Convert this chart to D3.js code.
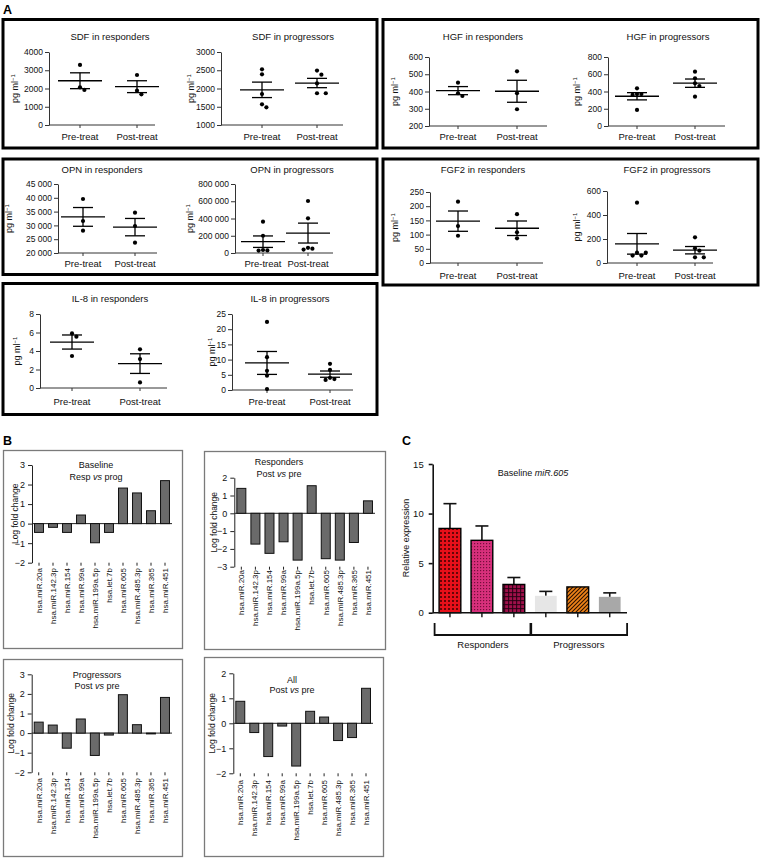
<!DOCTYPE html>
<html><head><meta charset="utf-8">
<script src="https://cdn.jsdelivr.net/npm/d3@7"></script>
<style>
body{margin:0;background:#fff;}
svg{display:block;font-family:"Liberation Sans",Arial,Helvetica,sans-serif;}
</style></head><body>
<svg id="c" width="762" height="858"></svg>
<script>
// ---------------- DATA ----------------
const treatGroups = ["Pre-treat", "Post-treat"];
// panel A: individual values [pre, post]
const sdfResponders   = [[3290, 2065, 1920], [2740, 1880, 1680]];
const sdfProgressors  = [[2526, 2389, 1849, 1567, 1485], [2490, 2380, 2140, 1870, 1870]];
const hgfResponders   = [[451, 390, 374], [517, 390, 297]];
const hgfProgressors  = [[437, 371, 360, 370, 186], [630, 553, 495, 464, 340]];
const opnResponders   = [[39565, 31594, 28080], [34601, 29783, 23732]];
const opnProgressors  = [[363000, 200000, 35000, 30000, 28000], [603000, 402000, 60000, 40000, 50000]];
const fgf2Responders  = [[216, 130, 96], [172, 108, 87]];
const fgf2Progressors = [[503, 86, 62, 62, 86], [214, 122, 103, 47, 47]];
const il8Responders   = [[5.9, 5.55, 3.46], [4.18, 3.13, 0.6]];
const il8Progressors  = [[22.4, 10.8, 6.3, 4.7, 0.3], [8.6, 6.6, 4.0, 3.3, 3.6]];

// y domains and tick steps [min, max, step]
const sdfRespTicks = [0, 4000, 1000];
const sdfProgTicks = [1000, 3000, 500];
const hgfRespTicks = [200, 600, 100];
const hgfProgTicks = [0, 800, 200];
const opnRespTicks = [20000, 45000, 5000];
const opnProgTicks = [0, 800000, 200000];
const fgfRespTicks = [0, 250, 50];
const fgfProgTicks = [0, 600, 200];
const il8RespTicks = [0, 8, 2];
const il8ProgTicks = [0, 25, 5];

// panel B
const mirnas = ["hsa.miR.20a", "hsa.miR.142.3p", "hsa.miR.154", "hsa.miR.99a", "hsa.miR.199a.5p",
                "hsa.let.7b", "hsa.miR.605", "hsa.miR.485.3p", "hsa.miR.365", "hsa.miR.451"];
const baselineRespVsProg  = [-0.45, -0.19, -0.45, 0.44, -0.98, -0.45, 1.82, 1.57, 0.66, 2.2];
const respondersPostVsPre = [1.4, -1.73, -2.25, -1.6, -2.63, 1.55, -2.55, -2.63, -1.64, 0.7];
const progressorsPostVsPre= [0.56, 0.41, -0.77, 0.72, -1.14, -0.1, 1.96, 0.43, -0.03, 1.82];
const allPostVsPre        = [0.88, -0.37, -1.33, -0.11, -1.71, 0.48, 0.25, -0.69, -0.57, 1.4];

// panel C
const cSamples = ["R1", "R2", "R3", "P1", "P2", "P3"];
const cValues  = [8.5, 7.3, 2.85, 1.7, 2.6, 1.6];
const cSem     = [2.5, 1.45, 0.7, 0.45, 0, 0.4];
const cGroupLabels = ["Responders", "Progressors"];

// ---------------- DRAW ----------------
const svg = d3.select("#c");
const defs = svg.append("defs");
const TXT = "#111";

function fmtTick(v) { return Math.abs(v) >= 10000 ? d3.format(",")(v).replace(/,/g, " ") : String(v); }

// Panel letters
[["A", 3, 14], ["B", 3, 445], ["C", 402, 445]].forEach(([t, x, y]) =>
  svg.append("text").attr("x", x).attr("y", y).attr("font-size", 12.5).attr("font-weight", "bold").text(t));

// Panel A frames
[[3, 19.5, 374, 128.5], [383, 19.5, 375, 128.5], [3, 159, 374, 115.5], [383, 159, 375, 126], [3, 283.5, 374, 131]]
  .forEach(([x, y, w, h]) => svg.append("rect").attr("x", x).attr("y", y).attr("width", w).attr("height", h)
    .attr("fill", "none").attr("stroke", "#000").attr("stroke-width", 3));

function yLabelPg(g, cx, cy) {
  const t = g.append("text").attr("transform", `translate(${cx},${cy}) rotate(-90)`)
    .attr("text-anchor", "middle").attr("dy", "0.35em").attr("font-size", 9).attr("fill", TXT);
  t.append("tspan").text("pg ml");
  t.append("tspan").attr("dy", "-0.45em").attr("font-size", 6).text("\u22121");
}

function scatterPlot(L, title, data, tk) {
  const g = svg.append("g");
  const y = d3.scaleLinear().domain([tk[0], tk[1]]).range([L.yBot, L.yTop]);
  const x = d3.scalePoint().domain(treatGroups).range([L.preX, L.postX]);
  const ya = g.append("g").attr("transform", `translate(${L.axisX},0)`)
    .call(d3.axisLeft(y).tickValues(d3.range(tk[0], tk[1] + tk[2] / 2, tk[2]))
      .tickSize(4).tickSizeOuter(0).tickPadding(2).tickFormat(fmtTick));
  ya.attr("font-size", 8.5).attr("font-family", null);
  ya.selectAll("text").attr("fill", TXT);
  ya.selectAll("line,path").attr("stroke", "#333");
  g.append("line").attr("x1", L.axisX).attr("x2", L.axisEnd).attr("y1", L.yBot).attr("y2", L.yBot).attr("stroke", "#333");
  treatGroups.forEach(gr => {
    g.append("line").attr("x1", x(gr)).attr("x2", x(gr)).attr("y1", L.yBot).attr("y2", L.yBot + 3).attr("stroke", "#333");
    g.append("text").attr("x", x(gr)).attr("y", L.labY).attr("text-anchor", "middle")
      .attr("font-size", 9.5).attr("fill", TXT).text(gr);
  });
  g.append("text").attr("x", L.titleX).attr("y", L.titleY).attr("text-anchor", "middle")
    .attr("font-size", 9.5).attr("fill", TXT).text(title);
  yLabelPg(g, L.ylabX, (L.yTop + L.yBot) / 2);

  data.forEach((pts, i) => {
    const cx = x(treatGroups[i]);
    const m = d3.mean(pts), s = d3.deviation(pts) / Math.sqrt(pts.length);
    const placed = [];
    const sorted = pts.map(v => ({ v, py: y(v) })).sort((a, b) => a.py - b.py);
    const offs = [0, 4.4, -4.4, 8.8, -8.8, 13.2, -13.2];
    sorted.forEach(p => {
      let ox = 0;
      for (const o of offs) {
        if (placed.every(q => Math.hypot(q.x - (cx + o), q.y - p.py) >= 4.4)) { ox = o; break; }
      }
      placed.push({ x: cx + ox, y: p.py });
    });
    g.selectAll(null).data(placed).join("circle").attr("cx", d => d.x).attr("cy", d => d.y)
      .attr("r", 2.1).attr("fill", "#000");
    const sw = 1.3;
    g.append("line").attr("x1", cx - 22).attr("x2", cx + 22).attr("y1", y(m)).attr("y2", y(m)).attr("stroke", "#000").attr("stroke-width", sw);
    g.append("line").attr("x1", cx).attr("x2", cx).attr("y1", y(m - s)).attr("y2", y(m + s)).attr("stroke", "#000").attr("stroke-width", sw);
    [m - s, m + s].forEach(v => g.append("line").attr("x1", cx - 10).attr("x2", cx + 10).attr("y1", y(v)).attr("y2", y(v))
      .attr("stroke", "#000").attr("stroke-width", sw));
  });
}

scatterPlot({ axisX: 49, axisEnd: 155, preX: 80, postX: 137, yTop: 52, yBot: 125, titleX: 110, titleY: 39.5, labY: 140, ylabX: 15 },
  "SDF in responders", sdfResponders, sdfRespTicks);
scatterPlot({ axisX: 221, axisEnd: 343, preX: 262, postX: 317, yTop: 52, yBot: 125, titleX: 293, titleY: 39.5, labY: 140, ylabX: 191 },
  "SDF in progressors", sdfProgressors, sdfProgTicks);
scatterPlot({ axisX: 429, axisEnd: 547, preX: 458, postX: 517, yTop: 57, yBot: 126, titleX: 483, titleY: 39.5, labY: 140, ylabX: 395 },
  "HGF in responders", hgfResponders, hgfRespTicks);
scatterPlot({ axisX: 608, axisEnd: 725, preX: 637, postX: 695, yTop: 57, yBot: 126, titleX: 668, titleY: 39.5, labY: 140, ylabX: 577 },
  "HGF in progressors", hgfProgressors, hgfProgTicks);
scatterPlot({ axisX: 58, axisEnd: 157, preX: 83, postX: 135, yTop: 184, yBot: 253, titleX: 102, titleY: 172.5, labY: 267, ylabX: 9 },
  "OPN in responders", opnResponders, opnRespTicks);
scatterPlot({ axisX: 235, axisEnd: 333, preX: 263, postX: 308, yTop: 184, yBot: 253, titleX: 292, titleY: 172.5, labY: 267, ylabX: 190 },
  "OPN in progressors", opnProgressors, opnProgTicks);
scatterPlot({ axisX: 430, axisEnd: 543, preX: 458, postX: 517, yTop: 192, yBot: 263, titleX: 483, titleY: 172.5, labY: 278.5, ylabX: 395 },
  "FGF2 in responders", fgf2Responders, fgfRespTicks);
scatterPlot({ axisX: 607, axisEnd: 713, preX: 637, postX: 695, yTop: 191, yBot: 263, titleX: 667, titleY: 172.5, labY: 278.5, ylabX: 577 },
  "FGF2 in progressors", fgf2Progressors, fgfProgTicks);
scatterPlot({ axisX: 40, axisEnd: 167, preX: 72, postX: 140, yTop: 314, yBot: 388, titleX: 110, titleY: 301.5, labY: 405, ylabX: 17 },
  "IL-8 in responders", il8Responders, il8RespTicks);
scatterPlot({ axisX: 232, axisEnd: 353, preX: 267, postX: 330, yTop: 314, yBot: 390, titleX: 290, titleY: 301.5, labY: 405, ylabX: 212 },
  "IL-8 in progressors", il8Progressors, il8ProgTicks);

// ---------------- Panel B ----------------
[[3, 450, 179, 198], [204, 451, 181, 198], [3, 659, 179, 197], [204, 657, 179, 199]]
  .forEach(([x, y, w, h]) => svg.append("rect").attr("x", x + 0.5).attr("y", y + 0.5).attr("width", w).attr("height", h)
    .attr("fill", "none").attr("stroke", "#7a7a7a").attr("stroke-width", 1.3));

function barPlot(L, titleA, titleB, values) {
  const g = svg.append("g");
  const y = d3.scaleLinear().domain(L.dom).range([L.yBot, L.yTop]);
  const x = d3.scaleBand().domain(mirnas).range([L.axisX, L.axisEnd]).paddingInner(0.36).paddingOuter(0.18);
  const ya = g.append("g").attr("transform", `translate(${L.axisX},0)`)
    .call(d3.axisLeft(y).ticks(L.dom[1] - L.dom[0]).tickSize(4).tickSizeOuter(0).tickPadding(3).tickFormat(d3.format("d")));
  ya.attr("font-size", 9).attr("font-family", null);
  ya.selectAll("text").attr("fill", TXT);
  ya.selectAll("line,path").attr("stroke", "#222");
  g.append("line").attr("x1", L.axisX).attr("x2", L.axisEnd).attr("y1", y(0)).attr("y2", y(0)).attr("stroke", "#222");
  g.selectAll(null).data(values).join("rect")
    .attr("x", (d, i) => x(mirnas[i])).attr("width", x.bandwidth())
    .attr("y", d => y(Math.max(0, d))).attr("height", d => Math.max(0.8, Math.abs(y(d) - y(0))))
    .attr("fill", "#6a6a6a").attr("stroke", "#111").attr("stroke-width", 1);
  mirnas.forEach(m => {
    const cx = x(m) + x.bandwidth() / 2;
    g.append("line").attr("x1", cx).attr("x2", cx).attr("y1", L.yBot).attr("y2", L.yBot + 3).attr("stroke", "#222");
    g.append("text").attr("transform", `translate(${cx},${L.labTop}) rotate(-90)`).attr("text-anchor", "end")
      .attr("dy", "0.35em").attr("font-size", 8).attr("fill", TXT).text(m);
  });
  g.append("text").attr("x", L.titleX).attr("y", L.titleY[0]).attr("text-anchor", "middle").attr("font-size", 9).attr("fill", TXT).text(titleA);
  const t2 = g.append("text").attr("x", L.titleX).attr("y", L.titleY[1]).attr("text-anchor", "middle").attr("font-size", 9).attr("fill", TXT);
  const parts = titleB.split(" vs ");
  t2.append("tspan").text(parts[0] + " ");
  t2.append("tspan").attr("font-style", "italic").text("vs");
  t2.append("tspan").text(" " + parts[1]);
  g.append("text").attr("transform", `translate(${L.ylabX},${(L.yTop + L.yBot) / 2}) rotate(-90)`)
    .attr("text-anchor", "middle").attr("dy", "0.35em").attr("font-size", 8.5).attr("fill", TXT).text("Log fold change");
}

barPlot({ axisX: 32, axisEnd: 172, yTop: 465, yBot: 562.7, dom: [-2, 3], titleX: 96, titleY: [468, 479.5], ylabX: 15, labTop: 568 },
  "Baseline", "Resp vs prog", baselineRespVsProg);
barPlot({ axisX: 234.3, axisEnd: 375, yTop: 477.7, yBot: 566.7, dom: [-3, 2], titleX: 279, titleY: [464.5, 476.5], ylabX: 214, labTop: 570 },
  "Responders", "Post vs pre", respondersPostVsPre);
barPlot({ axisX: 31.7, axisEnd: 172, yTop: 674.3, yBot: 772.3, dom: [-2, 3], titleX: 97, titleY: [677.5, 688.5], ylabX: 11, labTop: 778 },
  "Progressors", "Post vs pre", progressorsPostVsPre);
barPlot({ axisX: 233.3, axisEnd: 373, yTop: 673.3, yBot: 773.3, dom: [-2, 2], titleX: 292, titleY: [682.5, 693], ylabX: 212, labTop: 780 },
  "All", "Post vs pre", allPostVsPre);

// ---------------- Panel C ----------------
function pat(id, size, bg, draw) {
  const p = defs.append("pattern").attr("id", id).attr("patternUnits", "userSpaceOnUse").attr("width", size).attr("height", size);
  p.append("rect").attr("width", size).attr("height", size).attr("fill", bg);
  draw(p);
}
pat("p1", 4, "#e8101a", p => { p.append("rect").attr("x", 0).attr("y", 0).attr("width", 2).attr("height", 2).attr("fill", "#3a0000").attr("opacity", 0.75); });
pat("p2", 3, "#d8307c", p => { p.append("rect").attr("x", 0).attr("y", 0).attr("width", 1.2).attr("height", 1.2).attr("fill", "#4a0020").attr("opacity", 0.7); });
pat("p3", 4, "#a0104a", p => {
  p.append("rect").attr("x", 0).attr("y", 0).attr("width", 4).attr("height", 1.2).attr("fill", "#200010").attr("opacity", 0.8);
  p.append("rect").attr("x", 0).attr("y", 0).attr("width", 1.2).attr("height", 4).attr("fill", "#200010").attr("opacity", 0.8);
});
pat("p5", 4, "#f08418", p => {
  p.append("path").attr("d", "M-1,1 l2,-2 M0,4 l4,-4 M3,5 l2,-2").attr("stroke", "#2a1000").attr("stroke-width", 1.1);
});
const cFills   = ["url(#p1)", "url(#p2)", "url(#p3)", "#e6e6e6", "url(#p5)", "#a8a8a8"];
const cStrokes = ["#000", "#000", "#000", "none", "#000", "none"];

(function () {
  const L = { axisX: 432.7, axisEnd: 627, yTop: 464, yBot: 612.7 };
  const g = svg.append("g");
  const y = d3.scaleLinear().domain([0, 15]).range([L.yBot, L.yTop]);
  const x = d3.scaleBand().domain(cSamples).range([L.axisX, L.axisEnd]).paddingInner(0.32).paddingOuter(0.2);
  const ya = g.append("g").attr("transform", `translate(${L.axisX},0)`)
    .call(d3.axisLeft(y).tickValues([0, 5, 10, 15]).tickSize(4).tickSizeOuter(0).tickPadding(5));
  ya.attr("font-size", 9.5).attr("font-family", null);
  ya.selectAll("text").attr("fill", TXT);
  ya.selectAll("line,path").attr("stroke", "#111").attr("stroke-width", 1.6);
  cSamples.forEach((s, i) => {
    if (cSem[i] <= 0) return;
    const cx = x(s) + x.bandwidth() / 2;
    g.append("line").attr("x1", cx).attr("x2", cx).attr("y1", y(cValues[i])).attr("y2", y(cValues[i] + cSem[i])).attr("stroke", "#111").attr("stroke-width", 1.6);
    g.append("line").attr("x1", cx - 6.5).attr("x2", cx + 6.5).attr("y1", y(cValues[i] + cSem[i])).attr("y2", y(cValues[i] + cSem[i])).attr("stroke", "#111").attr("stroke-width", 1.6);
  });
  g.selectAll(null).data(cValues).join("rect")
    .attr("x", (d, i) => x(cSamples[i])).attr("width", x.bandwidth())
    .attr("y", d => y(d)).attr("height", d => y(0) - y(d))
    .attr("fill", (d, i) => cFills[i]).attr("stroke", (d, i) => cStrokes[i]).attr("stroke-width", 1.4);
  g.append("line").attr("x1", L.axisX).attr("x2", L.axisEnd).attr("y1", L.yBot).attr("y2", L.yBot).attr("stroke", "#111").attr("stroke-width", 1.6);
  cSamples.forEach(s => {
    const cx = x(s) + x.bandwidth() / 2;
    g.append("line").attr("x1", cx).attr("x2", cx).attr("y1", L.yBot).attr("y2", L.yBot + 4.5).attr("stroke", "#111").attr("stroke-width", 1.4);
  });
  const t = g.append("text").attr("x", 533).attr("y", 476).attr("text-anchor", "middle").attr("font-size", 9).attr("fill", TXT);
  t.append("tspan").text("Baseline ");
  t.append("tspan").attr("font-style", "italic").text("miR.605");
  g.append("text").attr("transform", `translate(406,538) rotate(-90)`).attr("text-anchor", "middle").attr("dy", "0.35em")
    .attr("font-size", 9).attr("fill", TXT).text("Relative expression");
  [[0, 2], [3, 5]].forEach(([a, b], k) => {
    const x1 = x(cSamples[a]) - 4.5, x2 = x(cSamples[b]) + x.bandwidth() + 6.5;
    g.append("path").attr("d", `M${x1},623 V635 H${x2} V623`).attr("fill", "none").attr("stroke", "#111").attr("stroke-width", 1.8);
    g.append("text").attr("x", (x1 + x2) / 2).attr("y", 648).attr("text-anchor", "middle").attr("font-size", 9.5).attr("fill", TXT).text(cGroupLabels[k]);
  });
})();
</script>
</body></html>
